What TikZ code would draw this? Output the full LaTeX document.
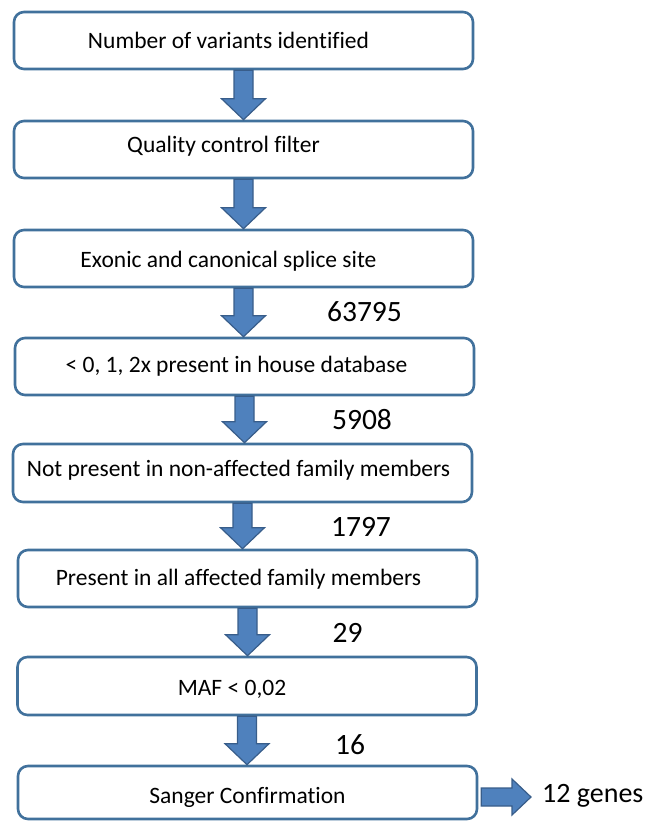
\documentclass[tikz,border=0pt]{standalone}
\usepackage{fontspec}
\setmainfont[Ligatures=NoCommon]{Carlito}
\usetikzlibrary{calc}
\definecolor{boxline}{HTML}{41719C}
\definecolor{arrfill}{HTML}{4F81BD}
\definecolor{arrline}{HTML}{385D8A}
\tikzset{
  box/.style={draw=boxline, line width=2.6pt, rounded corners=10pt, fill=white,
    minimum width=459pt, minimum height=57pt, inner sep=0pt},
  txt/.style={font=\fontsize{23.5}{26}\selectfont, text=black, inner sep=0pt},
  num/.style={font=\fontsize{29.5}{33}\selectfont, text=black, inner sep=0pt},
  blk/.style={fill=arrfill, draw=arrline, line width=1.2pt, line join=miter}
}
\newcommand\blkdown[2]{%
  \draw[blk] let \p1=(#1.south), \p2=(#2.north) in
    (\x1-9.5pt,\y1) -- (\x1-9.5pt,\y2+21pt) -- (\x1-22pt,\y2+21pt) -- (\x1,\y2)
    -- (\x1+22pt,\y2+21pt) -- (\x1+9.5pt,\y2+21pt) -- (\x1+9.5pt,\y1) -- cycle;}
\begin{document}
\begin{tikzpicture}[x=1pt,y=-1pt]
\useasboundingbox (0,0) rectangle (654,821);
\node[box, label={[txt, xshift=-15pt]center:Number of variants identified}] (b1) at (243.5,40.5) {};
\node[box, label={[txt, xshift=-20pt, yshift=3.5pt]center:Quality control filter}] (b2) at (243.5,149.5) {};
\node[box, label={[txt, xshift=-15pt, yshift=-3pt]center:Exonic and canonical splice site}] (b3) at (243.5,258.5) {};
\node[box, label={[txt, xshift=-8pt]center:{< 0, 1, 2x present in house database}}] (b4) at (244.5,366.5) {};
\node[box, minimum height=58pt, label={[txt, xshift=-4pt, yshift=2.5pt]center:Not present in non-affected family members}] (b5) at (242.5,473) {};
\node[box, label={[txt, xshift=-9pt, yshift=-1pt]center:Present in all affected family members}] (b6) at (247.5,578.5) {};
\node[box, minimum height=58pt, label={[txt, xshift=-15pt, yshift=-3.5pt]center:{MAF < 0,02}}] (b7) at (247,686) {};
\node[box, minimum height=53pt, label={[txt, yshift=-5pt]center:Sanger Confirmation}] (b8) at (247.5,792.5) {};
\blkdown{b1}{b2}
\blkdown{b2}{b3}
\blkdown{b3}{b4}
\blkdown{b4}{b5}
\blkdown{b5}{b6}
\blkdown{b6}{b7}
\blkdown{b7}{b8}
\node[num] (n1) at (364.5,312) {63795};
\node[num] (n2) at (362,420) {5908};
\node[num] (n3) at (361,527) {1797};
\node[num] (n4) at (347.5,633) {29};
\node[num] (n5) at (350,745) {16};
\node[num, font=\fontsize{28}{32}\selectfont, anchor=west] (g) at (542,796) {12 genes};
\draw[blk] let \p1=($(b8.east)+(3pt,-4.5pt)$), \p2=($(g.west)+(-11pt,0)$) in
  (\x1,\y1-9pt) -- (\x2-19pt,\y1-9pt) -- (\x2-19pt,\y1-18pt) -- (\x2,\y1)
  -- (\x2-19pt,\y1+18pt) -- (\x2-19pt,\y1+9pt) -- (\x1,\y1+9pt) -- cycle;
\end{tikzpicture}
\end{document}
